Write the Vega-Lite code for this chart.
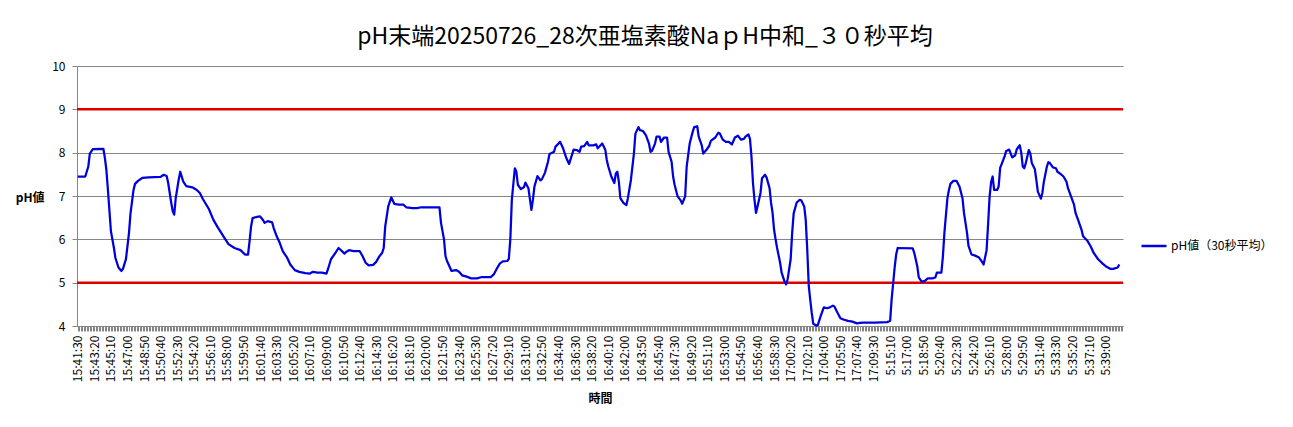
{
  "$schema": "https://vega.github.io/schema/vega-lite/v6.json",
  "width": 1046,
  "height": 260,
  "autosize": {"type": "none"},
  "padding": {"left": 77, "top": 66, "right": 170, "bottom": 101},
  "background": "white",
  "config": {"view": {"stroke": null}, "font": "Noto Sans CJK JP"},
  "title": {
    "text": "pH末端20250726_28次亜塩素酸NaｐH中和_３０秒平均",
    "fontSize": 23,
    "fontWeight": "normal",
    "color": "#000000",
    "anchor": "middle",
    "frame": "group",
    "dx": 45,
    "dy": 32,
    "baseline": "bottom",
    "offset": 20,
    "font": "Noto Sans CJK JP"
  },
  "encoding": {
    "y": {
      "field": "pH",
      "type": "quantitative",
      "scale": {"domain": [4, 10], "nice": false, "zero": false},
      "axis": {
        "values": [4, 5, 6, 7, 8, 9, 10],
        "grid": true,
        "gridColor": "#868686",
        "gridWidth": 1,
        "domainColor": "#868686",
        "tickColor": "#868686",
        "tickSize": 5,
        "labelFontSize": 12,
        "labelColor": "#000000",
        "labelPadding": 7,
        "title": "pH値",
        "titleAngle": 0,
        "titleAlign": "right",
        "titleBaseline": "middle",
        "titleX": -33,
        "titleY": 131,
        "titleFontSize": 12,
        "titleFontWeight": "bold",
        "titleColor": "#000000"
      }
    }
  },
  "layer": [
    {
      "data": {"values": [{"pH": 5}, {"pH": 9}]},
      "mark": {"type": "rule", "color": "#dd0000", "strokeWidth": 2.5},
      "encoding": {}
    },
    {
      "data": {"values": [
        {"idx":0,"pH":7.45},{"idx":5,"pH":7.45},{"idx":7,"pH":7.68},{"idx":8,"pH":7.98},{"idx":10,"pH":8.08},{"idx":17,"pH":8.09},{"idx":18,"pH":7.88},{"idx":19,"pH":7.6},{"idx":20,"pH":7.15},{"idx":22,"pH":6.19},{"idx":24,"pH":5.8},{"idx":25,"pH":5.57},{"idx":27,"pH":5.35},{"idx":29,"pH":5.27},{"idx":30,"pH":5.32},{"idx":32,"pH":5.55},{"idx":34,"pH":6.15},{"idx":35,"pH":6.6},{"idx":37,"pH":7.14},{"idx":38,"pH":7.28},{"idx":40,"pH":7.35},{"idx":43,"pH":7.42},{"idx":47,"pH":7.43},{"idx":55,"pH":7.44},{"idx":57,"pH":7.49},{"idx":59,"pH":7.46},{"idx":60,"pH":7.3},{"idx":62,"pH":6.85},{"idx":63,"pH":6.65},{"idx":64,"pH":6.57},{"idx":65,"pH":6.95},{"idx":67,"pH":7.38},{"idx":68,"pH":7.56},{"idx":70,"pH":7.33},{"idx":72,"pH":7.23},{"idx":76,"pH":7.2},{"idx":79,"pH":7.14},{"idx":81,"pH":7.07},{"idx":83,"pH":6.93},{"idx":87,"pH":6.7},{"idx":90,"pH":6.45},{"idx":93,"pH":6.27},{"idx":97,"pH":6.05},{"idx":100,"pH":5.89},{"idx":104,"pH":5.8},{"idx":108,"pH":5.75},{"idx":111,"pH":5.65},{"idx":113,"pH":5.65},{"idx":114,"pH":5.96},{"idx":115,"pH":6.3},{"idx":116,"pH":6.49},{"idx":119,"pH":6.52},{"idx":121,"pH":6.53},{"idx":123,"pH":6.44},{"idx":124,"pH":6.38},{"idx":126,"pH":6.42},{"idx":129,"pH":6.39},{"idx":130,"pH":6.26},{"idx":132,"pH":6.07},{"idx":134,"pH":5.92},{"idx":136,"pH":5.73},{"idx":139,"pH":5.57},{"idx":141,"pH":5.42},{"idx":144,"pH":5.29},{"idx":147,"pH":5.25},{"idx":151,"pH":5.22},{"idx":154,"pH":5.21},{"idx":156,"pH":5.25},{"idx":159,"pH":5.23},{"idx":162,"pH":5.23},{"idx":165,"pH":5.21},{"idx":166,"pH":5.31},{"idx":168,"pH":5.54},{"idx":171,"pH":5.69},{"idx":173,"pH":5.8},{"idx":174,"pH":5.77},{"idx":177,"pH":5.67},{"idx":178,"pH":5.71},{"idx":180,"pH":5.75},{"idx":183,"pH":5.73},{"idx":187,"pH":5.73},{"idx":189,"pH":5.61},{"idx":191,"pH":5.46},{"idx":193,"pH":5.4},{"idx":196,"pH":5.41},{"idx":198,"pH":5.48},{"idx":200,"pH":5.6},{"idx":202,"pH":5.69},{"idx":203,"pH":5.8},{"idx":204,"pH":6.3},{"idx":206,"pH":6.76},{"idx":208,"pH":6.97},{"idx":210,"pH":6.82},{"idx":213,"pH":6.8},{"idx":216,"pH":6.8},{"idx":218,"pH":6.74},{"idx":222,"pH":6.72},{"idx":225,"pH":6.72},{"idx":228,"pH":6.74},{"idx":235,"pH":6.74},{"idx":240,"pH":6.74},{"idx":241,"pH":6.38},{"idx":243,"pH":6.0},{"idx":244,"pH":5.61},{"idx":245,"pH":5.5},{"idx":248,"pH":5.27},{"idx":251,"pH":5.29},{"idx":253,"pH":5.25},{"idx":255,"pH":5.17},{"idx":258,"pH":5.14},{"idx":261,"pH":5.1},{"idx":265,"pH":5.1},{"idx":268,"pH":5.13},{"idx":274,"pH":5.13},{"idx":276,"pH":5.19},{"idx":278,"pH":5.32},{"idx":280,"pH":5.44},{"idx":282,"pH":5.49},{"idx":285,"pH":5.5},{"idx":286,"pH":5.55},{"idx":287,"pH":6.0},{"idx":288,"pH":6.91},{"idx":290,"pH":7.64},{"idx":291,"pH":7.56},{"idx":292,"pH":7.26},{"idx":294,"pH":7.16},{"idx":296,"pH":7.2},{"idx":297,"pH":7.31},{"idx":299,"pH":7.18},{"idx":300,"pH":6.93},{"idx":301,"pH":6.68},{"idx":302,"pH":6.91},{"idx":303,"pH":7.22},{"idx":305,"pH":7.46},{"idx":307,"pH":7.36},{"idx":308,"pH":7.39},{"idx":310,"pH":7.54},{"idx":312,"pH":7.79},{"idx":313,"pH":7.97},{"idx":316,"pH":8.02},{"idx":317,"pH":8.14},{"idx":319,"pH":8.21},{"idx":320,"pH":8.25},{"idx":322,"pH":8.1},{"idx":324,"pH":7.89},{"idx":326,"pH":7.74},{"idx":327,"pH":7.85},{"idx":329,"pH":8.07},{"idx":331,"pH":8.06},{"idx":333,"pH":8.02},{"idx":334,"pH":8.14},{"idx":336,"pH":8.15},{"idx":338,"pH":8.25},{"idx":339,"pH":8.17},{"idx":342,"pH":8.17},{"idx":344,"pH":8.19},{"idx":345,"pH":8.1},{"idx":348,"pH":8.21},{"idx":350,"pH":8.07},{"idx":351,"pH":7.83},{"idx":352,"pH":7.68},{"idx":354,"pH":7.45},{"idx":356,"pH":7.3},{"idx":357,"pH":7.52},{"idx":358,"pH":7.56},{"idx":359,"pH":7.33},{"idx":360,"pH":6.95},{"idx":362,"pH":6.84},{"idx":364,"pH":6.79},{"idx":365,"pH":6.95},{"idx":367,"pH":7.37},{"idx":369,"pH":7.98},{"idx":370,"pH":8.44},{"idx":372,"pH":8.59},{"idx":373,"pH":8.52},{"idx":375,"pH":8.5},{"idx":377,"pH":8.4},{"idx":379,"pH":8.21},{"idx":380,"pH":8.02},{"idx":381,"pH":8.04},{"idx":383,"pH":8.21},{"idx":384,"pH":8.37},{"idx":386,"pH":8.37},{"idx":387,"pH":8.25},{"idx":389,"pH":8.35},{"idx":391,"pH":8.35},{"idx":392,"pH":8.02},{"idx":394,"pH":7.79},{"idx":395,"pH":7.45},{"idx":396,"pH":7.26},{"idx":398,"pH":6.99},{"idx":400,"pH":6.9},{"idx":401,"pH":6.82},{"idx":403,"pH":6.99},{"idx":404,"pH":7.68},{"idx":406,"pH":8.21},{"idx":408,"pH":8.48},{"idx":409,"pH":8.59},{"idx":411,"pH":8.61},{"idx":412,"pH":8.37},{"idx":414,"pH":8.17},{"idx":415,"pH":7.98},{"idx":417,"pH":8.06},{"idx":419,"pH":8.16},{"idx":420,"pH":8.27},{"idx":423,"pH":8.35},{"idx":425,"pH":8.46},{"idx":426,"pH":8.44},{"idx":428,"pH":8.3},{"idx":430,"pH":8.25},{"idx":432,"pH":8.25},{"idx":434,"pH":8.19},{"idx":436,"pH":8.35},{"idx":438,"pH":8.39},{"idx":440,"pH":8.3},{"idx":442,"pH":8.32},{"idx":443,"pH":8.37},{"idx":445,"pH":8.42},{"idx":446,"pH":8.32},{"idx":447,"pH":7.91},{"idx":448,"pH":7.3},{"idx":449,"pH":6.91},{"idx":450,"pH":6.61},{"idx":451,"pH":6.76},{"idx":453,"pH":7.07},{"idx":454,"pH":7.41},{"idx":456,"pH":7.49},{"idx":457,"pH":7.43},{"idx":459,"pH":7.18},{"idx":460,"pH":6.84},{"idx":461,"pH":6.61},{"idx":462,"pH":6.22},{"idx":463,"pH":6.0},{"idx":464,"pH":5.8},{"idx":466,"pH":5.46},{"idx":467,"pH":5.23},{"idx":469,"pH":5.02},{"idx":470,"pH":4.96},{"idx":471,"pH":5.08},{"idx":473,"pH":5.54},{"idx":474,"pH":6.15},{"idx":475,"pH":6.6},{"idx":477,"pH":6.85},{"idx":479,"pH":6.91},{"idx":480,"pH":6.9},{"idx":482,"pH":6.76},{"idx":483,"pH":6.45},{"idx":484,"pH":5.77},{"idx":485,"pH":4.93},{"idx":486,"pH":4.6},{"idx":487,"pH":4.3},{"idx":488,"pH":4.05},{"idx":490,"pH":4.01},{"idx":491,"pH":4.02},{"idx":493,"pH":4.24},{"idx":495,"pH":4.43},{"idx":497,"pH":4.41},{"idx":499,"pH":4.43},{"idx":501,"pH":4.47},{"idx":502,"pH":4.45},{"idx":504,"pH":4.31},{"idx":506,"pH":4.18},{"idx":508,"pH":4.15},{"idx":511,"pH":4.12},{"idx":514,"pH":4.1},{"idx":517,"pH":4.06},{"idx":519,"pH":4.07},{"idx":521,"pH":4.08},{"idx":529,"pH":4.08},{"idx":537,"pH":4.09},{"idx":539,"pH":4.12},{"idx":540,"pH":4.62},{"idx":542,"pH":5.35},{"idx":543,"pH":5.65},{"idx":544,"pH":5.8},{"idx":554,"pH":5.79},{"idx":555,"pH":5.69},{"idx":557,"pH":5.38},{"idx":558,"pH":5.12},{"idx":560,"pH":5.02},{"idx":562,"pH":5.04},{"idx":564,"pH":5.1},{"idx":567,"pH":5.1},{"idx":569,"pH":5.12},{"idx":570,"pH":5.23},{"idx":573,"pH":5.23},{"idx":574,"pH":5.6},{"idx":575,"pH":6.15},{"idx":577,"pH":6.95},{"idx":578,"pH":7.14},{"idx":579,"pH":7.28},{"idx":581,"pH":7.35},{"idx":583,"pH":7.35},{"idx":585,"pH":7.22},{"idx":587,"pH":6.95},{"idx":588,"pH":6.61},{"idx":590,"pH":6.15},{"idx":591,"pH":5.85},{"idx":593,"pH":5.65},{"idx":595,"pH":5.63},{"idx":598,"pH":5.58},{"idx":600,"pH":5.48},{"idx":601,"pH":5.42},{"idx":603,"pH":5.75},{"idx":604,"pH":6.35},{"idx":605,"pH":6.99},{"idx":606,"pH":7.32},{"idx":607,"pH":7.45},{"idx":608,"pH":7.14},{"idx":610,"pH":7.14},{"idx":611,"pH":7.22},{"idx":612,"pH":7.65},{"idx":614,"pH":7.83},{"idx":615,"pH":7.92},{"idx":616,"pH":8.04},{"idx":618,"pH":8.07},{"idx":619,"pH":7.98},{"idx":620,"pH":7.89},{"idx":622,"pH":7.94},{"idx":623,"pH":8.08},{"idx":625,"pH":8.17},{"idx":626,"pH":8.0},{"idx":627,"pH":7.68},{"idx":628,"pH":7.64},{"idx":629,"pH":7.76},{"idx":631,"pH":8.06},{"idx":632,"pH":7.98},{"idx":633,"pH":7.76},{"idx":635,"pH":7.62},{"idx":636,"pH":7.37},{"idx":637,"pH":7.1},{"idx":639,"pH":6.94},{"idx":640,"pH":7.07},{"idx":641,"pH":7.33},{"idx":643,"pH":7.68},{"idx":644,"pH":7.78},{"idx":645,"pH":7.76},{"idx":647,"pH":7.66},{"idx":649,"pH":7.64},{"idx":650,"pH":7.56},{"idx":652,"pH":7.51},{"idx":654,"pH":7.45},{"idx":656,"pH":7.33},{"idx":657,"pH":7.18},{"idx":659,"pH":6.99},{"idx":661,"pH":6.8},{"idx":662,"pH":6.61},{"idx":664,"pH":6.42},{"idx":666,"pH":6.22},{"idx":667,"pH":6.07},{"idx":670,"pH":5.96},{"idx":672,"pH":5.84},{"idx":674,"pH":5.69},{"idx":677,"pH":5.54},{"idx":680,"pH":5.44},{"idx":682,"pH":5.38},{"idx":685,"pH":5.32},{"idx":687,"pH":5.32},{"idx":690,"pH":5.35},{"idx":691,"pH":5.42}
      ]},
      "mark": {"type": "line", "strokeWidth": 2.25, "strokeJoin": "round"},
      "encoding": {
        "x": {
          "field": "idx",
          "type": "quantitative",
          "scale": {"domain": [-0.5, 693.5], "nice": false, "zero": false},
          "title": "時間",
          "axis": {
            "tickCount": 694,
            "labelExpr": "datum.value % 11 == 0 ? ['15:41:30','15:43:20','15:45:10','15:47:00','15:48:50','15:50:40','15:52:30','15:54:20','15:56:10','15:58:00','15:59:50','16:01:40','16:03:30','16:05:20','16:07:10','16:09:00','16:10:50','16:12:40','16:14:30','16:16:20','16:18:10','16:20:00','16:21:50','16:23:40','16:25:30','16:27:20','16:29:10','16:31:00','16:32:50','16:34:40','16:36:30','16:38:20','16:40:10','16:42:00','16:43:50','16:45:40','16:47:30','16:49:20','16:51:10','16:53:00','16:54:50','16:56:40','16:58:30','17:00:20','17:02:10','17:04:00','17:05:50','17:07:40','17:09:30','5:15:10','5:17:00','5:18:50','5:20:40','5:22:30','5:24:20','5:26:10','5:28:00','5:29:50','5:31:40','5:33:30','5:35:20','5:37:10','5:39:00'][datum.value / 11] : ''",
            "labelAngle": -90,
            "labelAlign": "right",
            "labelBaseline": "middle",
            "labelOverlap": false,
            "labelBound": false,
            "labelFlush": false,
            "labelFontSize": 12,
            "labelColor": "#000000",
            "labelPadding": 4,
            "grid": false,
            "domainColor": "#868686",
            "tickColor": "#868686",
            "tickSize": 5,
            "titleFontSize": 12,
            "titleFontWeight": "bold",
            "titleColor": "#000000",
            "titleBaseline": "middle",
            "titleY": 72
          }
        },
        "color": {
          "datum": "pH値（30秒平均）",
          "scale": {"range": ["#0000dd"]},
          "legend": {
            "orient": "none",
            "legendX": 1063,
            "legendY": 166,
            "title": null,
            "padding": 0,
            "symbolType": "stroke",
            "symbolSize": 625,
            "symbolStrokeWidth": 2.5,
            "labelFontSize": 12,
            "labelColor": "#000000",
            "labelOffset": 3
          }
        }
      }
    }
  ]
}
